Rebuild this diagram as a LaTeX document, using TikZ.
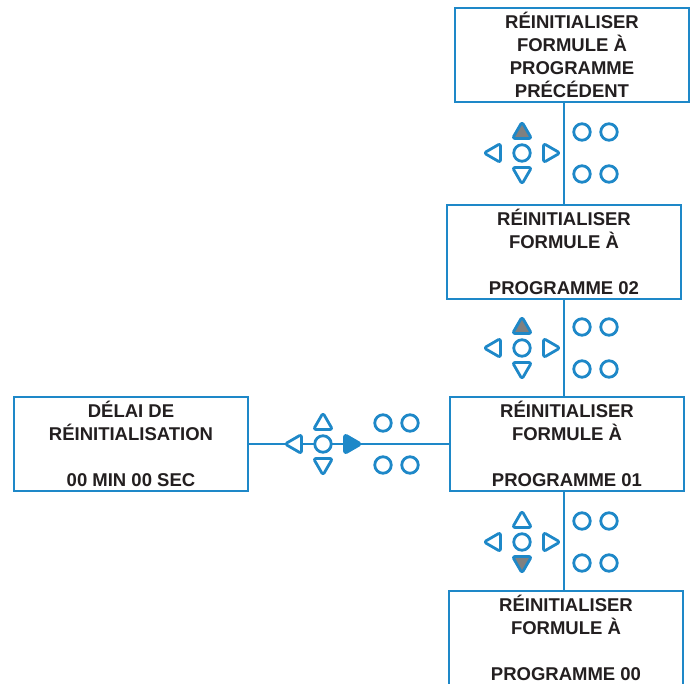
\documentclass[tikz,border=0pt]{standalone}
\usepackage{fontspec}
\setmainfont{Liberation Sans}
\usetikzlibrary{shapes.geometric}
\definecolor{bleu}{RGB}{30,136,200}
\definecolor{grisf}{RGB}{128,128,128}
\definecolor{texte}{RGB}{35,31,32}

\begin{document}
\begin{tikzpicture}[x=1pt,y=-1pt,
ecran/.style={draw=bleu,line width=2.8pt,fill=white,minimum width=234pt,minimum height=94pt,align=center,text=texte,font=\fontsize{18.5}{23}\selectfont\bfseries,inner sep=0pt},
lien/.style={draw=bleu,line width=2.8pt},
touche/.style={circle,draw=bleu,line width=2.8pt,fill=white,minimum size=16.5pt,inner sep=0pt},
fleche/.style={regular polygon,regular polygon sides=3,draw=bleu,line width=2.8pt,line join=round,rounded corners=2.5pt,fill=white,minimum size=22pt,inner sep=0pt}
]
\useasboundingbox (0,0) rectangle (693,684);

% ecrans
\node[ecran] (prec) at (572,55) {RÉINITIALISER\\FORMULE À\\PROGRAMME\\PRÉCÉDENT};
\node[ecran] (prog02) at (564,252) {RÉINITIALISER\\FORMULE À\\[23pt]PROGRAMME 02};
\node[ecran] (prog01) at (567,444) {RÉINITIALISER\\FORMULE À\\[23pt]PROGRAMME 01};
\node[ecran] (prog00) at (566,638) {RÉINITIALISER\\FORMULE À\\[23pt]PROGRAMME 00};
\node[ecran] (delai) at (131,444) {DÉLAI DE\\RÉINITIALISATION\\[23pt]00 MIN 00 SEC};

% liaisons
\draw[lien] (prec.south -| prog02.north) -- (prog02.north);
\draw[lien] (prog02.south) -- (prog02.south |- prog01.north);
\draw[lien] (prog01.south -| prog02.south) -- (prog00.north -| prog02.south);
\draw[lien] (delai.east) -- (prog01.west);

% claviers
\foreach \n/\cx/\cy/\fh/\fb/\fd in {1/522/153/grisf/white/white, 2/522/348/grisf/white/white, 3/522/542/white/grisf/white, 4/323/444/white/white/bleu}{
  \node[touche] (centre\n) at (\cx,\cy) {};
  \node[fleche,fill=\fh] (haut\n) at (\cx,\cy-20) {};
  \node[fleche,fill=\fb,shape border rotate=180] (bas\n) at (\cx,\cy+20) {};
  \node[fleche,shape border rotate=90] (gauche\n) at (\cx-27,\cy) {};
  \node[fleche,fill=\fd,shape border rotate=270] (droite\n) at (\cx+27,\cy) {};
  \node[touche] (toucheA\n) at (\cx+60,\cy-21) {};
  \node[touche] (toucheB\n) at (\cx+87,\cy-21) {};
  \node[touche] (toucheC\n) at (\cx+60,\cy+21) {};
  \node[touche] (toucheD\n) at (\cx+87,\cy+21) {};
}
\end{tikzpicture}
\end{document}
